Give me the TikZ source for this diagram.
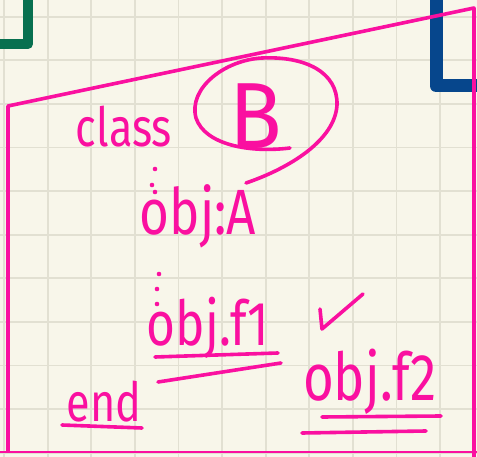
\documentclass[tikz,border=0pt]{standalone}
\usepackage{fontspec}
\setmainfont{Fira Sans}
\definecolor{paper}{RGB}{248,246,234}
\definecolor{gridc}{RGB}{226,224,210}
\definecolor{ink}{RGB}{250,16,160}
\definecolor{gr}{RGB}{8,112,80}
\definecolor{bl}{RGB}{6,70,140}
\tikzset{
  pen/.style={draw=ink,line width=3.6pt,line cap=round,line join=round},
  hand/.style={text=ink,inner sep=0pt,anchor=center,font=\fontsize{54}{54}\selectfont,xscale=0.8},
  dotm/.style={fill=ink,draw=none},
}
\begin{document}
\begin{tikzpicture}[x=1pt,y=-1pt]
\useasboundingbox (0,0) rectangle (477,457);
\fill[paper] (0,0) rectangle (477,457);
\foreach \i in {0,...,10} {\draw[gridc,line width=1.8pt] ({4+43.6*\i},0) -- ({4+43.6*\i},457);}
\foreach \j in {0,...,10} {\draw[gridc,line width=1.8pt] (0,{16.7+43.6*\j}) -- (477,{16.7+43.6*\j});}
% green and blue corners
\draw[gr,line width=10pt,line join=round] (28,-6) -- (28,44) -- (-6,44);
\draw[bl,line width=13pt,line join=round] (436,-8) -- (436,86) -- (485,86);
% pink frame
\draw[pen,line width=3.6pt] (8,451) -- (8,106) -- (474,8) -- (474,460);
\draw[pen,line width=2pt] (0,452) -- (477,452);
% text
\node[hand] (cls) at (124,127) {class};
\node[hand,font=\fontsize{94}{94}\selectfont,xscale=1.15] (b) at (256,116) {B};
\node[hand,font=\fontsize{64}{64}\selectfont] (obja) at (198,216) {obj:A};
\node[hand,font=\fontsize{62}{62}\selectfont] (objf1) at (208,328) {obj.f1};
\node[hand] (endn) at (104,402) {end};
\node[hand,font=\fontsize{66}{66}\selectfont] (objf2) at (370,382) {obj.f2};
% circle around B with tail to A
\draw[pen] (290,148) .. controls (250,153) and (205,145) .. (196,118)
  .. controls (188,88) and (225,60) .. (262,58)
  .. controls (305,56) and (338,72) .. (337,105)
  .. controls (335,140) and (290,168) .. (246,183);
% vertical dots
\fill[dotm] (155,169) circle (2.3);
\fill[dotm] (152,185) circle (2.3);
\fill[dotm] (155,192) circle (2.3);
\fill[dotm] (159,274) circle (2.3);
\fill[dotm] (157,289) circle (2.3);
\fill[dotm] (157,304) circle (2.3);
% underlines
\draw[pen] (155,357) -- (278,353);
\draw[pen] (158,382) -- (281,363);
\draw[pen] (62,425) -- (142,428);
\draw[pen] (322,417) -- (441,416);
\draw[pen] (302,433) -- (426,431);
% check mark
\draw[pen] (320,309) -- (322,329) -- (363,294);
\end{tikzpicture}
\end{document}
